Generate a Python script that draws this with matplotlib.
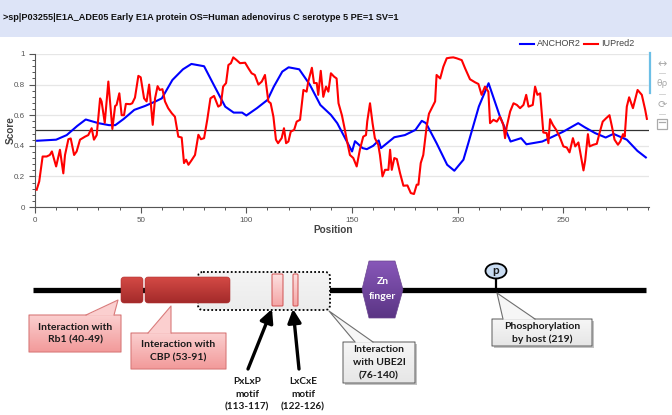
import numpy as np
import matplotlib
matplotlib.use("Agg")
import matplotlib.pyplot as plt
from matplotlib.colors import LinearSegmentedColormap
from matplotlib.patches import FancyBboxPatch, Polygon, Ellipse, Rectangle
from matplotlib.ticker import MultipleLocator

# --- dados (posicao, score) ---
anchor_pos = [1, 10, 15, 20, 24, 30, 35, 38, 42, 47, 52, 57, 60, 65, 70, 74, 80,
              85, 90, 94, 98, 100, 105, 110, 113, 117, 120, 125, 130, 135, 140,
              143, 150, 151.4, 155, 157, 160, 162.6, 163.7, 170, 175, 180, 183,
              185, 190, 195, 198.4, 202.7, 205, 210, 214.6, 220, 225, 230, 232.5,
              240, 245, 250, 257, 260, 265, 270, 273.7, 280, 285, 289]
anchor_score = [0.433, 0.44, 0.47, 0.53, 0.572, 0.548, 0.535, 0.535, 0.576, 0.635,
                0.66, 0.69, 0.71, 0.83, 0.90, 0.935, 0.92, 0.787, 0.656, 0.617,
                0.617, 0.598, 0.646, 0.70, 0.787, 0.885, 0.913, 0.90, 0.80, 0.667,
                0.602, 0.548, 0.363, 0.43, 0.385, 0.378, 0.40, 0.435, 0.385, 0.456,
                0.47, 0.504, 0.563, 0.548, 0.417, 0.276, 0.237, 0.309, 0.417,
                0.657, 0.809, 0.59, 0.428, 0.45, 0.41, 0.428, 0.46, 0.493, 0.548,
                0.522, 0.483, 0.454, 0.478, 0.44, 0.367, 0.324]

iupred_pos = [0.8, 2, 3.6, 5.5, 7, 8, 10, 11.8, 13.4, 14.2, 15.8, 16.9, 18.5, 19.7,
              21.3, 23.7, 25.2, 26.8, 27.9, 29.2, 30.8, 31.5, 33, 34.7, 36.6, 37.9,
              38.6, 39.9, 41, 42.1, 43, 45, 46, 47.3, 48.9, 50, 51.6, 52.8, 54,
              55.7, 56.8, 58, 59, 60.3, 61.5, 63, 64.7, 66.2, 67.8, 69.4, 70.5,
              71.5, 72.6, 74, 75.7, 77.3, 78.5, 80, 81.5, 83, 84.7, 86.7, 87.9, 89,
              90.4, 91.5, 92.7, 93.8, 95.4, 97, 99.4, 101, 102.5, 104, 105.7, 107.3,
              108.8, 110.4, 111.5, 112.8, 114, 115, 116.7, 117.8, 118.8, 119.9, 121,
              122.6, 123.8, 125.4, 127, 128.5, 129.3, 131, 132, 133.3, 134, 135.2,
              136.4, 137.7, 138.8, 140, 141.5, 142.7, 143.6, 145.2, 146.3, 147.5,
              149, 150.6, 152.2, 153.7, 155.3, 156.6, 157.2, 158.5, 159.7, 160.8,
              162.4, 163.2, 164.4, 165.6, 167.2, 168, 168.8, 170, 171.2, 172.7,
              174.3, 176.2, 177.8, 179.3, 180.6, 181.4, 182.5, 183.7, 185.3, 186.4,
              187.7, 189.3, 190, 191.7, 193.2, 194.8, 196.4, 197.9, 199.5, 201.9,
              203.5, 205.8, 208.2, 209.8, 211.3, 212.9, 214.5, 215.3, 216.9, 218.5,
              220, 221.6, 222.4, 223.2, 224.8, 226.4, 228, 229.5, 231.1, 232.4,
              233.5, 235.5, 236.6, 237.7, 239, 240.5, 242.1, 242.9, 243.7, 245,
              246.6, 248.2, 250, 251.6, 252.9, 254.5, 255.6, 257.1, 257.9, 259.5,
              260.3, 261.6, 262.4, 264.2, 265.8, 267.1, 268.6, 270.2, 271.8, 272.9,
              274.2, 275.8, 276.9, 278.2, 279, 280, 281.1, 282.9, 285.1, 287.1,
              288.7, 289.5]
iupred_score = [0.113, 0.167, 0.33, 0.33, 0.34, 0.363, 0.265, 0.374, 0.22, 0.34,
                0.443, 0.448, 0.34, 0.363, 0.44, 0.46, 0.47, 0.515, 0.44, 0.47,
                0.71, 0.69, 0.55, 0.82, 0.51, 0.66, 0.667, 0.743, 0.60, 0.60, 0.674,
                0.672, 0.678, 0.715, 0.857, 0.848, 0.71, 0.69, 0.80, 0.537, 0.71,
                0.79, 0.765, 0.77, 0.69, 0.646, 0.613, 0.59, 0.46, 0.454, 0.287,
                0.309, 0.276, 0.304, 0.34, 0.472, 0.443, 0.45, 0.57, 0.71, 0.726,
                0.656, 0.667, 0.787, 0.81, 0.928, 0.94, 0.978, 0.96, 0.94, 0.943,
                0.906, 0.874, 0.863, 0.80, 0.82, 0.863, 0.69, 0.678, 0.59, 0.44,
                0.417, 0.45, 0.515, 0.417, 0.428, 0.493, 0.504, 0.558, 0.57, 0.765,
                0.754, 0.82, 0.91, 0.81, 0.81, 0.733, 0.89, 0.72, 0.787, 0.754,
                0.874, 0.852, 0.84, 0.678, 0.60, 0.526, 0.44, 0.34, 0.32, 0.265,
                0.374, 0.46, 0.47, 0.56, 0.678, 0.548, 0.45, 0.407, 0.34, 0.20,
                0.243, 0.243, 0.374, 0.243, 0.32, 0.313, 0.222, 0.139, 0.141, 0.091,
                0.085, 0.146, 0.146, 0.287, 0.34, 0.526, 0.61, 0.646, 0.69, 0.863,
                0.84, 0.917, 0.972, 0.976, 0.978, 0.972, 0.96, 0.906, 0.835, 0.815,
                0.804, 0.733, 0.787, 0.754, 0.548, 0.57, 0.558, 0.59, 0.537, 0.45,
                0.526, 0.624, 0.678, 0.667, 0.646, 0.667, 0.733, 0.656, 0.667, 0.787,
                0.733, 0.743, 0.487, 0.483, 0.417, 0.574, 0.537, 0.504, 0.46, 0.396,
                0.389, 0.357, 0.45, 0.396, 0.422, 0.363, 0.239, 0.304, 0.476, 0.396,
                0.407, 0.413, 0.483, 0.558, 0.58, 0.60, 0.53, 0.44, 0.407, 0.428,
                0.476, 0.46, 0.656, 0.717, 0.646, 0.765, 0.733, 0.635, 0.576]

threshold = 0.5
title = ">sp|P03255|E1A_ADE05 Early E1A protein OS=Human adenovirus C serotype 5 PE=1 SV=1"
series_names = ["ANCHOR2", "IUPred2"]

W, H = 672, 415
fig = plt.figure(figsize=(W / 100, H / 100), dpi=100)

# camada de fundo em pixels (cabecalho + diagrama)
ov = fig.add_axes([0, 0, 1, 1], zorder=0)
ov.set_axis_off()

BOLD = dict(family=["Lato", "DejaVu Sans"], weight="bold", color="#1a1a1a")


def grad_box(x, y, w, h, c1, c2, ec, r=3, lw=0.8, z=3, ls="-"):
    p = FancyBboxPatch((x, y), w, h, boxstyle=f"round,pad=0,rounding_size={r}",
                       fc="none", ec=ec, lw=lw, ls=ls, zorder=z + 0.2)
    ov.add_patch(p)
    cm = LinearSegmentedColormap.from_list("g", [c1, c2])
    im = ov.imshow(np.linspace(0, 1, 64)[:, None], cmap=cm, aspect="auto",
                   extent=(x, x + w, y + h, y), zorder=z)
    im.set_clip_path(p)
    return p


def callout(x, y, w, h, tip, b1, b2, c1, c2, ec, lines, z=4, shadow=False):
    if shadow:
        ov.add_patch(Rectangle((x + 1.5, y + 1.5), w, h, fc="#9a9a9a", ec="none",
                               alpha=0.6, zorder=z - 0.5))
    grad_box(x, y, w, h, c1, c2, ec, r=0.01, lw=0.8, z=z)
    ov.add_patch(Polygon([(b1, y + 0.8), tip, (b2, y + 0.8)], closed=True,
                         fc=c1, ec="none", zorder=z + 0.3))
    ov.plot([b1, tip[0], b2], [y, tip[1], y], color=ec, lw=0.8, zorder=z + 0.4)
    cx, cy = x + w / 2, y + h / 2
    n = len(lines)
    for i, t in enumerate(lines):
        ov.text(cx, cy + (i - (n - 1) / 2) * 13, t, ha="center", va="center",
                fontsize=7.5, zorder=z + 1, **BOLD)


# cabecalho
ov.add_patch(Rectangle((0, 0), W, 37, fc="#dde4f7", ec="none", zorder=1))
ov.text(3, 18, title, ha="left", va="center", fontsize=6.6, weight="bold",
        family=["Liberation Sans Narrow", "Liberation Sans"], color="#111", zorder=2)

# legenda
ov.plot([520, 534], [44, 44], color="#0000ff", lw=1.5, zorder=2)
ov.text(537, 44, series_names[0], va="center", fontsize=6.5, color="#444",
        family="Liberation Sans", zorder=2)
ov.plot([584, 598], [44, 44], color="#ff0000", lw=1.5, zorder=2)
ov.text(601, 44, series_names[1], va="center", fontsize=6.5, color="#444",
        family="Liberation Sans", zorder=2)

# barra de ferramentas (bokeh)
ov.plot([650, 650], [53, 93], color="#6cbfe6", lw=1.6, zorder=2)
for yy in (73, 94, 114):
    ov.plot([659, 665], [yy, yy], color="#cccccc", lw=0.6, zorder=2)
ov.text(662, 64, "\u2194", ha="center", va="center", fontsize=8, color="#aaaaaa",
        family="DejaVu Sans", zorder=2)
ov.text(662, 84, "\u03b8\u03c1", ha="center", va="center", fontsize=6.5,
        color="#aaaaaa", family="DejaVu Sans", zorder=2)
ov.text(662, 105, "\u27f3", ha="center", va="center", fontsize=8, color="#aaaaaa",
        family="DejaVu Sans", zorder=2)
ov.add_patch(Rectangle((657, 119), 10, 10, fc="none", ec="#aaaaaa", lw=0.9, zorder=2))
ov.plot([659, 665], [122, 122], color="#aaaaaa", lw=0.9, zorder=2)

# rotulos dos eixos
ov.text(11, 130, "Score", rotation=90, ha="center", va="center", fontsize=7.2,
        weight="bold", color="#444444", family="Liberation Sans", zorder=2)
ov.text(333, 230, "Position", ha="center", va="center", fontsize=7.2,
        weight="bold", color="#444444", family="Liberation Sans", zorder=2)

# --- diagrama da proteina ---
ov.plot([33, 646], [289.5, 289.5], color="black", lw=3.8, solid_capstyle="butt", zorder=2)
grad_box(198, 272, 132, 38, "#f4f4f4", "#ececec", "black", r=5, lw=1.3, z=3, ls=(0, (1, 1.2)))
grad_box(121, 277, 22, 26, "#d44a45", "#a32a2a", "#b03030", r=3, lw=0.4, z=5)
grad_box(145, 277, 85, 26, "#d44a45", "#a32a2a", "#b03030", r=3, lw=0.4, z=5)
grad_box(272, 274, 11, 32, "#fde0e0", "#f4a5a5", "#d05050", r=1, lw=0.7, z=5)
grad_box(293, 274, 5, 32, "#fde0e0", "#f4a5a5", "#d05050", r=1, lw=0.7, z=5)

# dedo de zinco (hexagono)
hexa = Polygon([(362, 289.5), (369, 261), (395, 261), (403, 289.5), (395, 318), (369, 318)],
               closed=True, fc="none", ec="#6a4590", lw=0.5, zorder=5.2)
ov.add_patch(hexa)
im = ov.imshow(np.linspace(0, 1, 64)[:, None], aspect="auto", zorder=5,
               cmap=LinearSegmentedColormap.from_list("z", ["#8757b8", "#5b3585"]),
               extent=(362, 403, 318, 261))
im.set_clip_path(hexa)
ov.text(382.5, 281, "Zn", ha="center", va="center", fontsize=7.5, zorder=6,
        family=["Lato", "DejaVu Sans"], weight="bold", color="white")
ov.text(382.5, 296, "finger", ha="center", va="center", fontsize=7.5, zorder=6,
        family=["Lato", "DejaVu Sans"], weight="bold", color="white")

# fosforilacao
ov.plot([496, 496], [278, 290], color="black", lw=1.6, zorder=5)
ov.add_patch(Ellipse((496, 271), 21, 15, fc="#c9dcf2", ec="black", lw=1.3, zorder=6))
ov.text(496, 270, "p", ha="center", va="center", fontsize=8.5, zorder=7, **BOLD)

# baloes
pink1, pink2, pink_ec = "#fbcfcf", "#f29a9a", "#d97a7a"
grey1, grey2, grey_ec = "#f6f6f6", "#e6e6e6", "#6e6e6e"
callout(29, 315, 92, 37, (118, 300), 86, 114, pink1, pink2, pink_ec,
        ["Interaction with", "Rb1 (40-49)"])
callout(131, 333, 95, 36, (171, 306), 148, 171, pink1, pink2, pink_ec,
        ["Interaction with", "CBP (53-91)"])
callout(343, 342, 72, 41, (329, 311), 355, 373, grey1, grey2, grey_ec,
        ["Interaction", "with UBE2I", "(76-140)"], shadow=True)
callout(492, 319, 100, 27, (497, 293), 503, 535, grey1, grey2, grey_ec,
        ["Phosphorylation", "by host (219)"], shadow=True)

# motivos com setas
for (tx, x0, y0, x1, y1, lab) in [(247, 248, 369, 272, 309, ["PxLxP", "motif", "(113-117)"]),
                                 (303, 299, 369, 293, 309, ["LxCxE", "motif", "(122-126)"])]:
    ov.annotate("", xy=(x1, y1), xytext=(x0, y0), zorder=6,
                arrowprops=dict(arrowstyle="-|>,head_length=0.8,head_width=0.4",
                                color="black", lw=2.4, shrinkA=0, shrinkB=0))
    for i, t in enumerate(lab):
        ov.text(tx, 381 + i * 13, t, ha="center", va="center", fontsize=7.2,
                zorder=6, **BOLD)

ov.set_xlim(0, W)
ov.set_ylim(H, 0)

# --- grafico ANCHOR2 / IUPred2 ---
ax = fig.add_axes([35 / W, 1 - 207 / H, (649 - 35) / W, (207 - 54) / H], zorder=2)
ax.patch.set_alpha(0)
ax.plot(anchor_pos, anchor_score, color="#0000ff", lw=1.5, zorder=3)
ax.plot(iupred_pos, iupred_score, color="#ff0000", lw=1.5, zorder=4)
ax.axhline(threshold, color="#333333", lw=0.9, zorder=2)
ax.set_xlim(0, 290.5)
ax.set_ylim(0, 1)
ax.yaxis.set_major_locator(MultipleLocator(0.2))
ax.yaxis.set_minor_locator(MultipleLocator(0.04))
ax.xaxis.set_major_locator(MultipleLocator(50))
ax.xaxis.set_minor_locator(MultipleLocator(10))
ax.set_yticks([0, 0.2, 0.4, 0.6, 0.8, 1.0], ["0", "0.2", "0.4", "0.6", "0.8", "1"])
ax.grid(axis="y", color="#e6e6e6", lw=0.9, zorder=0)
ax.set_axisbelow(True)
for s in ("top", "right"):
    ax.spines[s].set_visible(False)
for s in ("left", "bottom"):
    ax.spines[s].set_color("#555555")
    ax.spines[s].set_linewidth(0.8)
ax.tick_params(which="major", length=4, width=0.8, color="#555555",
               labelsize=5.8, labelcolor="#555555", pad=3)
ax.tick_params(which="minor", length=2.5, width=0.7, color="#555555")
for lab in ax.get_xticklabels() + ax.get_yticklabels():
    lab.set_family("Liberation Sans")

fig.savefig("out.png", dpi=100)
